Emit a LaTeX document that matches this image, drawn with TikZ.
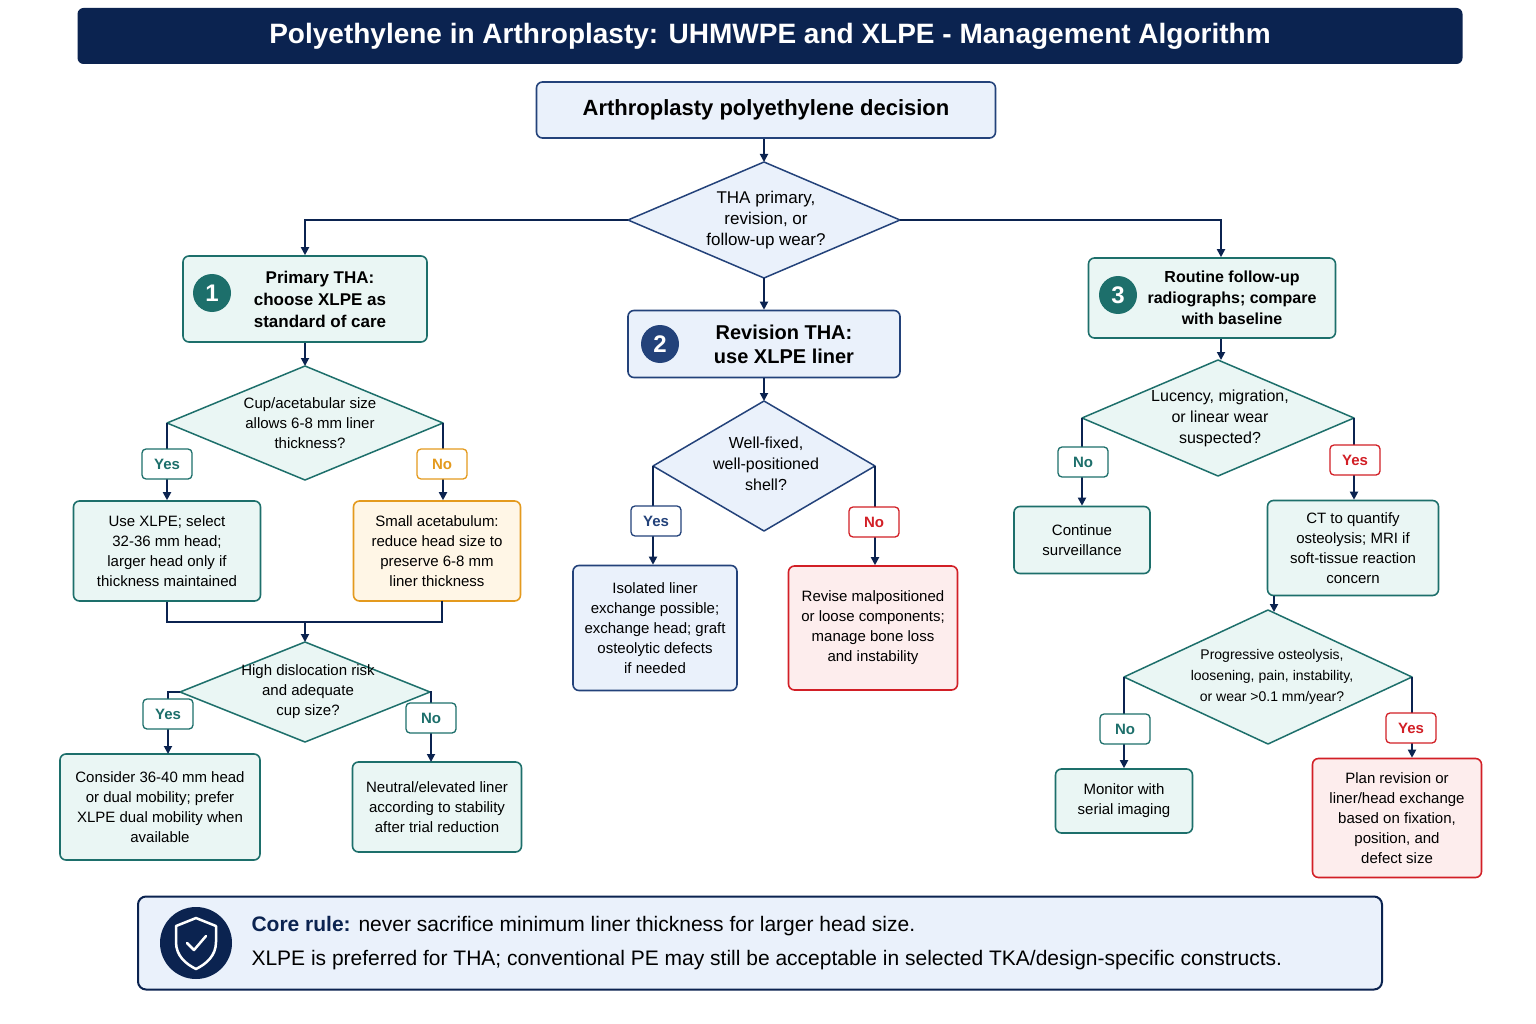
\documentclass[tikz,border=0pt]{standalone}
\usepackage{fontspec}
\setmainfont{Liberation Sans}
\usetikzlibrary{arrows.meta,calc}
\definecolor{navy}{HTML}{0B2350}
\definecolor{teal}{HTML}{1D6F6B}
\definecolor{tealf}{HTML}{EAF6F4}
\definecolor{blu}{HTML}{23427A}
\definecolor{bluf}{HTML}{EAF1FB}
\definecolor{org}{HTML}{E49A1E}
\definecolor{orgf}{HTML}{FFF6E6}
\definecolor{rd}{HTML}{D21F26}
\definecolor{rdf}{HTML}{FDEDED}
\newcommand\dia[6]{% name, cx, cy, w, h, color
  \fill[#6f] (#2-#4/2,#3) -- (#2,#3-#5/2) -- (#2+#4/2,#3) -- (#2,#3+#5/2) -- cycle;
  \draw[#6,line width=1.5pt,line join=round] (#2-#4/2,#3) -- (#2,#3-#5/2) -- (#2+#4/2,#3) -- (#2,#3+#5/2) -- cycle;
  \coordinate (#1-l) at (#2-#4/2,#3);\coordinate (#1-r) at (#2+#4/2,#3);
  \coordinate (#1-t) at (#2,#3-#5/2);\coordinate (#1-b) at (#2,#3+#5/2);}
\begin{document}
\begin{tikzpicture}[x=1pt,y=-1pt,
  box/.style={draw=#1,line width=1.6pt,rounded corners=6pt,align=center,font=\fontsize{15}{20}\selectfont,inner sep=0pt},
  tbox/.style={box=teal,fill=tealf},
  bbox/.style={box=blu,fill=bluf},
  obox/.style={box=org,fill=orgf},
  rbox/.style={box=rd,fill=rdf},
  lab/.style={draw=#1,text=#1,fill=white,line width=1.3pt,rounded corners=4pt,font=\bfseries\fontsize{15}{15}\selectfont,minimum width=50pt,minimum height=30pt,inner sep=2pt},
  dt/.style={align=center,font=\fontsize{15}{20}\selectfont},
  num/.style={circle,fill=#1,text=white,font=\bfseries\fontsize{24}{24}\selectfont,minimum size=38pt,inner sep=0pt},
  ar/.style={-{Triangle[length=8pt,width=8pt]},navy,line width=1.8pt},
  ln/.style={navy,line width=1.8pt}]
\useasboundingbox (0,0) rectangle (1536,1024);
\fill[white] (0,0) rectangle (1536,1024);
\node[fill=navy,rounded corners=6pt,minimum width=1385pt,minimum height=56pt,text=white,font=\bfseries\fontsize{28}{28}\selectfont] (title) at (770,36) {Polyethylene in Arthroplasty: UHMWPE and XLPE - Management Algorithm};
\node[bbox,minimum width=459pt,minimum height=56pt,font=\bfseries\fontsize{22}{22}\selectfont] (top) at (766,110) {Arthroplasty polyethylene decision};
\dia{d1}{764}{220}{272}{116}{blu}
\node[dt,font=\fontsize{17}{21}\selectfont] (d1t) at (766,220) {THA primary,\\revision, or\\follow-up wear?};
\node[tbox,minimum width=244pt,minimum height=86pt] (n1) at (305,299) {};
\node[align=center,font=\bfseries\fontsize{17}{22}\selectfont] (n1t) at (320,299) {Primary THA:\\choose XLPE as\\standard of care};
\node[num=teal] (c1) at (212,293) {1};
\node[bbox,minimum width=272pt,minimum height=67pt,font=\bfseries\fontsize{20}{24}\selectfont] (n2) at (764,344) {\hspace*{40pt}Revision THA:\\\hspace*{40pt}use XLPE liner};
\node[num=blu] (c2) at (660,344) {2};
\node[tbox,minimum width=247pt,minimum height=80pt] (n3) at (1212,298) {};
\node[align=center,font=\bfseries\fontsize{16}{21}\selectfont] (n3t) at (1232,298) {Routine follow-up\\radiographs; compare\\with baseline};
\node[num=teal] (c3) at (1118,295) {3};
\dia{d2}{305}{423}{276}{114}{teal}
\node[dt] (d2t) at (310,423) {Cup/acetabular size\\allows 6-8 mm liner\\thickness?};
\node[tbox,minimum width=187pt,minimum height=100pt] (b1) at (167,551) {Use XLPE; select\\32-36 mm head;\\larger head only if\\thickness maintained};
\node[obox,minimum width=167pt,minimum height=100pt] (b2) at (437,551) {Small acetabulum:\\reduce head size to\\preserve 6-8 mm\\liner thickness};
\dia{d3}{305}{692}{250}{100}{teal}
\node[dt] (d3t) at (308,692) {High dislocation risk\\and adequate\\cup size?};
\node[tbox,minimum width=200pt,minimum height=106pt] (b3) at (160,807) {Consider 36-40 mm head\\or dual mobility; prefer\\XLPE dual mobility when\\available};
\node[tbox,minimum width=169pt,minimum height=90pt] (b4) at (437,807) {Neutral/elevated liner\\according to stability\\after trial reduction};
\dia{d4}{764}{466}{222}{130}{blu}
\node[dt,font=\fontsize{16}{21}\selectfont] (d4t) at (766,464) {Well-fixed,\\well-positioned\\shell?};
\node[bbox,minimum width=164pt,minimum height=125pt] (b5) at (655,628) {Isolated liner\\exchange possible;\\exchange head; graft\\osteolytic defects\\if needed};
\node[rbox,minimum width=169pt,minimum height=124pt] (b6) at (873,628) {Revise malpositioned\\or loose components;\\manage bone loss\\and instability};
\dia{d5}{1218}{418}{272}{116}{teal}
\node[dt,font=\fontsize{16}{21}\selectfont] (d5t) at (1220,418) {Lucency, migration,\\or linear wear\\suspected?};
\node[tbox,minimum width=136pt,minimum height=67pt] (b7) at (1082,540) {Continue\\surveillance};
\node[tbox,minimum width=171pt,minimum height=95pt] (b8) at (1353,548) {CT to quantify\\osteolysis; MRI if\\soft-tissue reaction\\concern};
\dia{d6}{1268}{677}{288}{134}{teal}
\node[dt,font=\fontsize{14}{21}\selectfont] (d6t) at (1272,677) {Progressive osteolysis,\\loosening, pain, instability,\\or wear >0.1 mm/year?};
\node[tbox,minimum width=137pt,minimum height=64pt] (b9) at (1124,801) {Monitor with\\serial imaging};
\node[rbox,minimum width=169pt,minimum height=119pt] (b10) at (1397,818) {Plan revision or\\liner/head exchange\\based on fixation,\\position, and\\defect size};
% connectors
\draw[ar] (top.south -| d1-t) -- (d1-t);
\draw[ar] (d1-l) -| (n1.north);
\draw[ar] (d1-r) -| (n3.north -| 1221,0);
\draw[ar] (d1-b) -- (n2.north);
\draw[ar] (n1) -- (d2-t);
\draw[ar] (d2-l) -- (b1.north -| d2-l);
\draw[ar] (d2-r) -- (b2.north -| d2-r);
\draw[ln] (b1.south) -- (167,622) -- (442,622) -- (442,601);
\coordinate (m) at (305,622);
\draw[ar] (m) -- (d3-t);
\draw[ar] (d3-l) -- (180,692) -- (168,692) -- (168,754);
\draw[ar] (d3-r) -- (431,692) -- (431,762);
\draw[ar] (n2) -- (d4-t);
\draw[ar] (d4-l) -- (b5.north -| d4-l);
\draw[ar] (d4-r) -- (b6.north -| d4-r);
\draw[ar] (n3.south -| 1221,0) -- (1221,360);
\draw[ar] (d5-l) -- (b7.north -| d5-l);
\draw[ar] (d5-r) -- (b8.north -| d5-r);
\draw[ar] (b8.south -| 1274,0) -- (1274,612);
\draw[ar] (d6-l) -- (b9.north -| d6-l);
\draw[ar] (d6-r) -- (b10.north -| d6-r);
% labels
\node[lab=teal] (y1) at (167,464) {Yes};
\node[lab=org] (n1l) at (442,464) {No};
\node[lab=teal] (y2) at (168,714) {Yes};
\node[lab=teal] (n2l) at (431,718) {No};
\node[lab=blu] (y3) at (656,521) {Yes};
\node[lab=rd] (n3l) at (874,522) {No};
\node[lab=teal] (n4l) at (1083,462) {No};
\node[lab=rd] (y4) at (1355,460) {Yes};
\node[lab=teal] (n5l) at (1125,729) {No};
\node[lab=rd] (y5) at (1411,728) {Yes};
% bottom
\node[draw=navy,fill=bluf,line width=2pt,rounded corners=8pt,minimum width=1244pt,minimum height=93pt] (core) at (760,943) {};
\node[circle,fill=navy,minimum size=72pt] (shield) at (196,943) {};
\draw[white,line width=2.5pt,line join=round] (196,918) -- (216,926) -- (216,942) .. controls (216,956) and (206,964) .. (196,969) .. controls (186,964) and (176,956) .. (176,942) -- (176,926) -- cycle;
\draw[white,line width=2.5pt,line cap=round,line join=round] (187,943) -- (194,950) -- (206,936);
\node[anchor=west,align=left,font=\fontsize{21}{34}\selectfont,text=black] (coret) at (248,943) {\textcolor{navy}{\bfseries Core rule:} never sacrifice minimum liner thickness for larger head size.\\XLPE is preferred for THA; conventional PE may still be acceptable in selected TKA/design-specific constructs.};
\end{tikzpicture}
\end{document}
